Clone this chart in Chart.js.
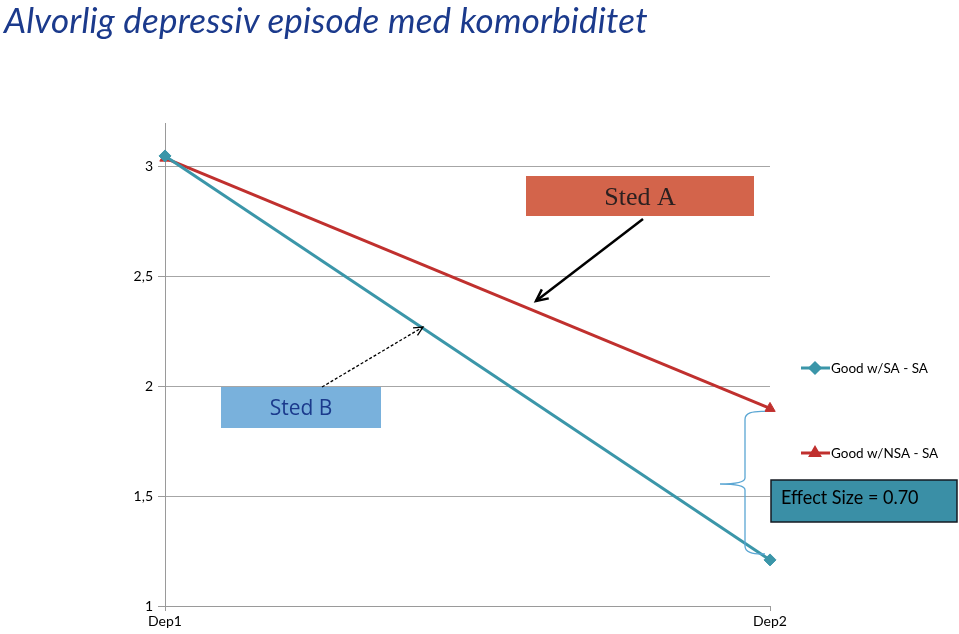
<!DOCTYPE html>
<html>
<head>
<meta charset="utf-8">
<script src="https://cdn.jsdelivr.net/npm/chart.js@4/dist/chart.umd.min.js"></script>
<style>
  html, body { margin: 0; padding: 0; background: #fff; }
  #wrap { position: relative; width: 959px; height: 634px; }
  #title { position: absolute; left: 4px; top: -2px; font-family: Lato, sans-serif; font-style: italic; font-size: 35px; color: #1b3a8c; white-space: nowrap; letter-spacing: 0.2px; }
  canvas { position: absolute; left: 0; top: 0; }
</style>
</head>
<body>
<div id="wrap">
  <canvas id="c" width="959" height="634"></canvas>
  <div id="title">Alvorlig depressiv episode med komorbiditet</div>
</div>
<script>
const categories = ['Dep1', 'Dep2'];
const seriesSA = [3.05, 1.21];
const seriesNSA = [3.04, 1.90];
const seriesNames = ['Good w/SA - SA', 'Good w/NSA - SA'];
const yTickValues = [1, 1.5, 2, 2.5, 3];
const yTickLabels = ['1', '1,5', '2', '2,5', '3'];
const effectLabel = 'Effect Size = 0.70';
const labelA = 'Sted A';
const labelB = 'Sted B';

const TEAL = '#3b96a9';
const RED = '#c0302e';

function arrow(ctx, x1, y1, x2, y2, opts) {
  ctx.save();
  ctx.strokeStyle = opts.color; ctx.fillStyle = opts.color;
  ctx.lineWidth = opts.width;
  if (opts.dash) ctx.setLineDash(opts.dash);
  ctx.beginPath(); ctx.moveTo(x1, y1); ctx.lineTo(x2, y2); ctx.stroke();
  ctx.setLineDash([]);
  const a = Math.atan2(y2 - y1, x2 - x1);
  const L = opts.head, w = 0.45;
  ctx.beginPath();
  ctx.moveTo(x2 - L * Math.cos(a - w), y2 - L * Math.sin(a - w));
  ctx.lineTo(x2, y2);
  ctx.lineTo(x2 - L * Math.cos(a + w), y2 - L * Math.sin(a + w));
  ctx.stroke();
  ctx.restore();
}

const decor = {
  id: 'decor',
  afterDraw(chart) {
    const ctx = chart.ctx;
    const xs = chart.scales.x, ys = chart.scales.y;
    ctx.save();
    // Sted A box
    ctx.fillStyle = '#d3644b';
    ctx.fillRect(526, 176, 228, 40);
    ctx.fillStyle = '#2b2020';
    ctx.font = '26px "Liberation Serif", serif';
    ctx.textAlign = 'center'; ctx.textBaseline = 'middle';
    ctx.fillText(labelA, 640, 198);
    arrow(ctx, 643, 219, 536, 301, { color: '#000', width: 2.5, head: 13 });

    // Sted B box
    ctx.fillStyle = '#79b1dc';
    ctx.fillRect(221, 387, 160, 41);
    ctx.fillStyle = '#1b3a8c';
    ctx.font = '21px "Open Sans", sans-serif';
    ctx.fillText(labelB, 301, 409);
    arrow(ctx, 322, 387, 423, 327, { color: '#000', width: 1.3, head: 10, dash: [3, 2] });

    // Brace between the two Dep2 values
    const xr = xs.getPixelForValue(1);
    const yTop = ys.getPixelForValue(seriesNSA[1]) + 3;
    const yBot = ys.getPixelForValue(seriesSA[1]) - 6;
    const yMid = 484;
    const bx = 745;
    ctx.strokeStyle = '#5aa6d3'; ctx.lineWidth = 1.3;
    ctx.beginPath();
    ctx.moveTo(xr - 5, yTop);
    ctx.quadraticCurveTo(bx, yTop - 1, bx, yTop + 8);
    ctx.lineTo(bx, yMid - 6);
    ctx.quadraticCurveTo(bx, yMid, 720, yMid);
    ctx.quadraticCurveTo(bx, yMid, bx, yMid + 6);
    ctx.lineTo(bx, yBot - 8);
    ctx.quadraticCurveTo(bx, yBot + 1, xr - 5, yBot);
    ctx.stroke();

    // Effect size box
    ctx.fillStyle = '#3a8fa6';
    ctx.fillRect(771, 480, 186, 42);
    ctx.strokeStyle = '#151a22'; ctx.lineWidth = 1.5;
    ctx.strokeRect(771, 480, 186, 42);
    ctx.fillStyle = '#000';
    ctx.font = '20px Lato, sans-serif';
    ctx.textAlign = 'left';
    ctx.save();
    ctx.translate(781, 498);
    ctx.scale(0.9, 1);
    ctx.fillText(effectLabel, 0, 0);
    ctx.restore();

    // Legend
    const items = [
      { name: seriesNames[0], color: TEAL, style: 'rectRot', y: 368 },
      { name: seriesNames[1], color: RED, style: 'triangle', y: 453 }
    ];
    ctx.font = '13.5px Lato, sans-serif';
    ctx.textBaseline = 'middle';
    items.forEach(it => {
      ctx.strokeStyle = it.color; ctx.lineWidth = 3;
      ctx.beginPath(); ctx.moveTo(801, it.y); ctx.lineTo(830, it.y); ctx.stroke();
      ctx.fillStyle = it.color;
      Chart.helpers.drawPoint(ctx, { pointStyle: it.style, radius: 5, borderWidth: 1 }, 815, it.y);
      ctx.fill();
      ctx.fillStyle = '#000';
      ctx.fillText(it.name, 831, it.y + 1);
    });
    ctx.restore();
  }
};

new Chart(document.getElementById('c'), {
  type: 'line',
  data: {
    labels: categories,
    datasets: [
      { label: seriesNames[0], data: seriesSA, borderColor: TEAL, backgroundColor: TEAL, borderWidth: 3,
        pointStyle: 'rectRot', pointRadius: 6, pointBorderWidth: 1 },
      { label: seriesNames[1], data: seriesNSA, borderColor: RED, backgroundColor: RED, borderWidth: 3,
        pointStyle: 'triangle', pointRadius: 6, pointBorderWidth: 1 }
    ]
  },
  options: {
    responsive: false,
    animation: false,
    layout: { padding: { left: 0, right: 189, top: 123, bottom: 0 } },
    plugins: { legend: { display: false }, tooltip: { enabled: false }, title: { display: false } },
    scales: {
      x: {
        offset: false,
        grid: { drawOnChartArea: false, color: '#9a9a9a', tickLength: 5, drawTicks: true },
        border: { color: '#9a9a9a', width: 1 },
        ticks: { color: '#000', font: { family: 'Lato', size: 14 }, padding: 2, maxRotation: 0 },
        afterFit(scale) { scale.height = 28; }
      },
      y: {
        min: 1, max: 3.2,
        afterBuildTicks(scale) { scale.ticks = yTickValues.map(v => ({ value: v })); },
        grid: { color: (c) => c.tick && c.tick.value === 1 ? 'rgba(0,0,0,0)' : '#a6a6a6', tickColor: '#9a9a9a', tickLength: 7 },
        border: { color: '#9a9a9a', width: 1 },
        ticks: {
          color: '#000', font: { family: 'Lato', size: 14 }, padding: 5,
          callback: (v) => { const i = yTickValues.indexOf(v); return i >= 0 ? yTickLabels[i] : ''; }
        },
        afterFit(scale) { scale.width = 165; }
      }
    }
  },
  plugins: [decor]
});
</script>
</body>
</html>
